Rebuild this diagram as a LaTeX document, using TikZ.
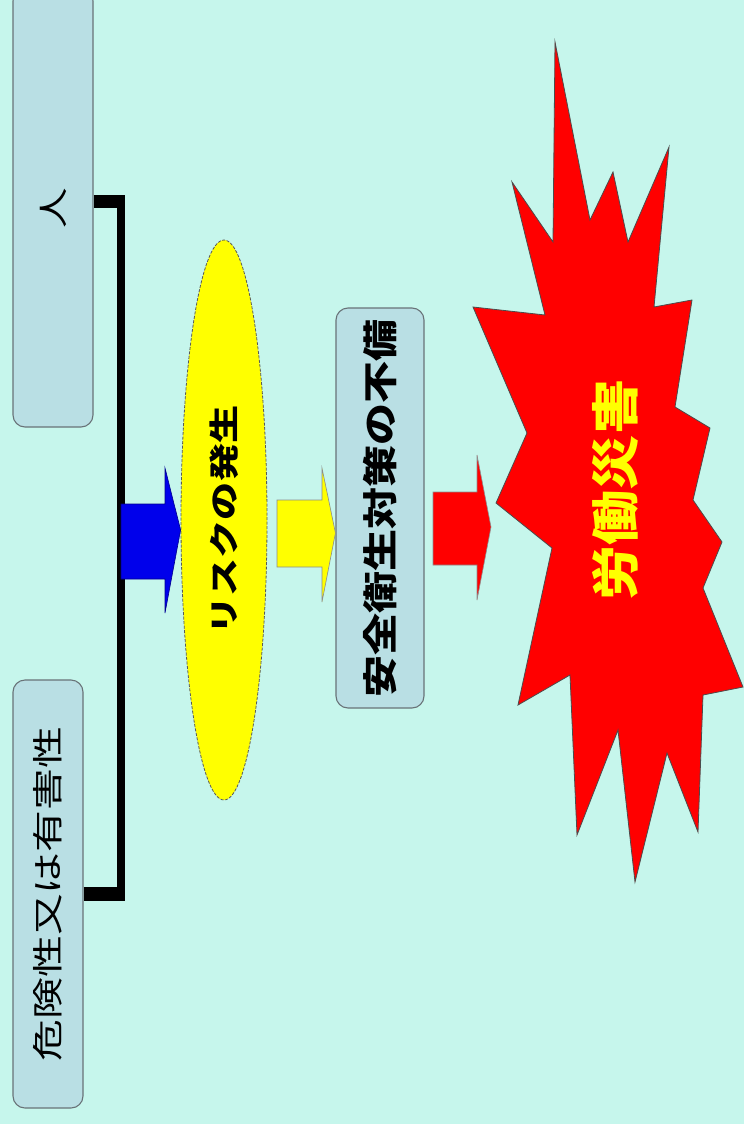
\documentclass[tikz,border=0pt]{standalone}
\usepackage{fontspec}
\newfontfamily\cjk{Noto Sans CJK JP}
\usetikzlibrary{shapes.geometric}
\definecolor{bg}{RGB}{198,246,236}
\definecolor{boxfill}{RGB}{185,223,228}
\definecolor{boxline}{RGB}{105,115,120}
\definecolor{arrblue}{RGB}{0,0,235}
\definecolor{arryel}{RGB}{255,255,0}
\definecolor{arrred}{RGB}{255,0,0}
\newcommand{\myvtxt}[3]{\rotatebox{90}{\scalebox{#1}[1]{\fontsize{#2}{#2}\selectfont #3}}}
\begin{document}
\begin{tikzpicture}[x=1pt,y=-1pt,
  graybox/.style={draw=boxline, line width=1.1pt, fill=boxfill, rounded corners=12pt, inner sep=0pt, font=\cjk},
  riskell/.style={ellipse, draw=black!65, dash pattern=on 3pt off 1.5pt, line width=0.8pt, fill=arryel, inner sep=0pt, font=\cjk},
  blockarrow/.style={line width=0.6pt},
  bracket/.style={draw=black, line cap=butt}
]
\useasboundingbox[fill=bg] (0,0) rectangle (744,1124);

% boxes
\node[graybox, minimum width=80pt, minimum height=438pt] (hito) at (53,208) {\myvtxt{1.35}{30}{人}};
\node[graybox, minimum width=70pt, minimum height=428pt] (hazard) at (48,894) {\myvtxt{1.35}{31}{危険性又は有害性}};
\node[riskell, minimum width=86pt, minimum height=560pt] (risk) at (224,520) {\myvtxt{1.27}{30}{\bfseries リスクの発生}};
\node[graybox, minimum width=88pt, minimum height=400pt] (measure) at (380,508) {\myvtxt{1.2}{35}{\bfseries 安全衛生対策の不備}};

% bracket
\coordinate (jtop) at (121,195);
\coordinate (jbot) at (121,901);
\draw[bracket, line width=8pt] (jtop) -- (jbot);
\draw[bracket, line width=13pt] (hito.east |- 0,201) -- (125,201);
\draw[bracket, line width=14pt] (hazard.east |- 0,894) -- (125,894);

% explosion
\filldraw[fill=arrred, draw=black!70, line width=0.8pt, line join=miter]
  (555,42) -- (590,220) -- (613,172) -- (628,242) -- (669,147) -- (654,307)
  -- (692,300) -- (675,407) -- (710,428) -- (693,500) -- (722,542) -- (703,588)
  -- (743,687) -- (703,695) -- (698,832) -- (667,753) -- (635,882) -- (618,730)
  -- (577,835) -- (570,675) -- (518,705) -- (552,548) -- (496,503) -- (527,433)
  -- (473,307) -- (545,315) -- (512,182) -- (553,242) -- cycle;
\node[font=\cjk, text=arryel, inner sep=0pt] (accident) at (615,490) {\myvtxt{1.15}{48}{\bfseries 労働災害}};

% block arrows
\filldraw[blockarrow, fill=arrblue, draw=arrblue!60!black]
  (121,504) -- (165,504) -- (165,468) -- (risk.west |- 0,530) -- (165,613) -- (165,579) -- (121,579) -- cycle;
\filldraw[blockarrow, fill=arryel, draw=black!45]
  (277,500) -- (322,500) -- (322,468) -- (measure.west |- 0,533) -- (322,602) -- (322,567) -- (277,567) -- cycle;
\filldraw[blockarrow, fill=arrred, draw=black!45]
  (433,492) -- (477,492) -- (477,455) -- (491,527) -- (477,600) -- (477,565) -- (433,565) -- cycle;
\end{tikzpicture}
\end{document}
